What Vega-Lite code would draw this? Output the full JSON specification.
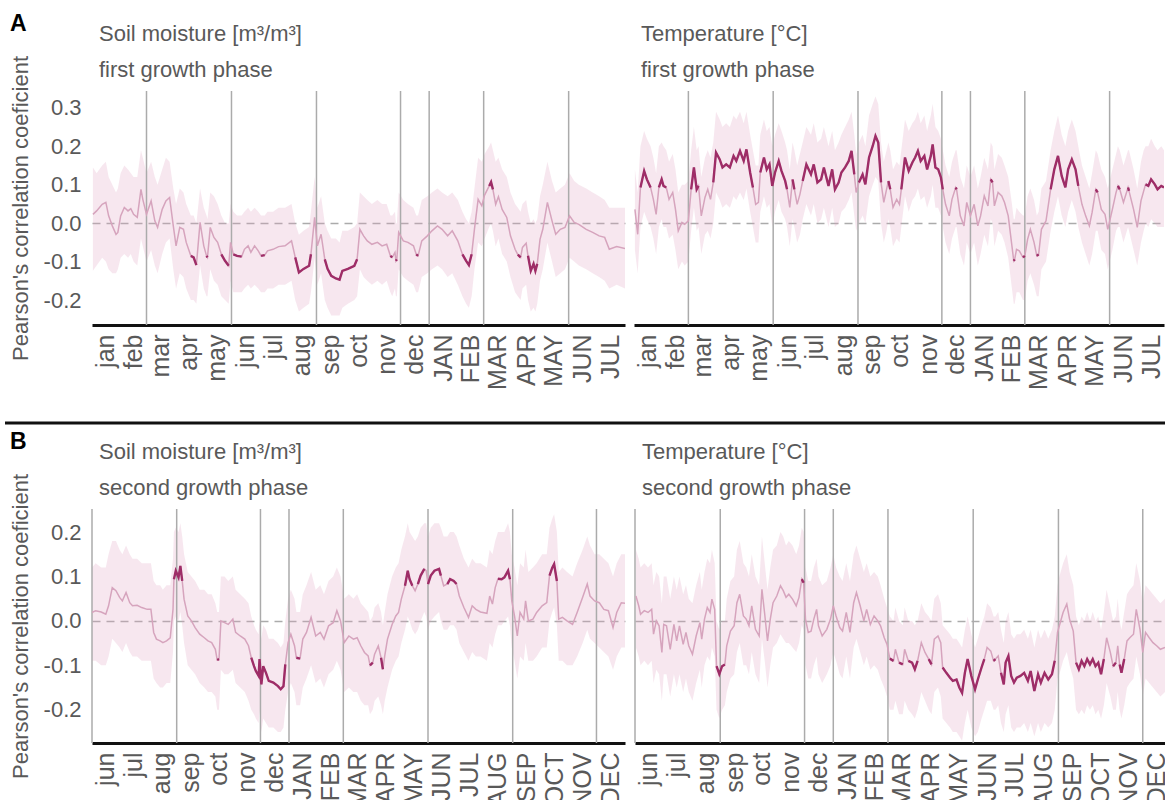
{
  "$schema": "https://vega.github.io/schema/vega-lite/v6.json",
  "background": "#ffffff",
  "padding": {"left": 3, "top": 13, "right": 0, "bottom": 0},
  "columns": 1,
  "align": "none",
  "spacing": 6,
  "config": {
    "font": "Liberation Sans",
    "view": {"stroke": null},
    "axis": {"grid": false, "ticks": false, "tickSize": 0, "labelColor": "#595959", "titleColor": "#595959", "titleFontWeight": "normal"},
    "axisX": {"domainColor": "#111111", "domainWidth": 3, "labelAngle": -90, "labelFontSize": 25, "labelPadding": 9, "labelSeparation": -10},
    "axisY": {"domain": false, "labelFontSize": 22, "labelPadding": 11, "titleFontSize": 22},
    "title": {"anchor": "start", "frame": "group", "fontSize": 22, "fontWeight": "normal", "color": "#595959", "subtitleFontSize": 22, "subtitleColor": "#595959", "subtitlePadding": 14, "dx": 7, "offset": 8}
  },
  "datasets": {
    "seasonsFirst": [{"day": 59}, {"day": 151}, {"day": 243}, {"day": 334}, {"day": 365}, {"day": 424}, {"day": 516}],
    "seasonsSecond": [{"day": 0}, {"day": 92}, {"day": 183}, {"day": 214}, {"day": 273}, {"day": 365}, {"day": 457}, {"day": 548}],
    "soilFirst": [
      {"day": 1, "r": 0.023, "hi": 0.145, "lo": -0.124},
      {"day": 5, "r": 0.032, "hi": 0.13, "lo": -0.11},
      {"day": 11, "r": 0.049, "hi": 0.15, "lo": -0.09},
      {"day": 15, "r": 0.054, "hi": 0.16, "lo": -0.1},
      {"day": 18, "r": 0.019, "hi": 0.12, "lo": -0.12},
      {"day": 22, "r": -0.007, "hi": 0.1, "lo": -0.13},
      {"day": 26, "r": -0.029, "hi": 0.08, "lo": -0.13},
      {"day": 28, "r": -0.024, "hi": 0.09, "lo": -0.12},
      {"day": 31, "r": 0.019, "hi": 0.13, "lo": -0.09},
      {"day": 35, "r": 0.041, "hi": 0.15, "lo": -0.08},
      {"day": 39, "r": 0.032, "hi": 0.14, "lo": -0.09},
      {"day": 42, "r": 0.038, "hi": 0.13, "lo": -0.08},
      {"day": 45, "r": 0.023, "hi": 0.12, "lo": -0.1},
      {"day": 49, "r": 0.015, "hi": 0.12, "lo": -0.11},
      {"day": 53, "r": 0.088, "hi": 0.19, "lo": -0.04},
      {"day": 55, "r": 0.062, "hi": 0.17, "lo": -0.06},
      {"day": 59, "r": 0.023, "hi": 0.13, "lo": -0.1},
      {"day": 64, "r": 0.058, "hi": 0.16, "lo": -0.07},
      {"day": 68, "r": 0.006, "hi": 0.12, "lo": -0.11},
      {"day": 71, "r": -0.011, "hi": 0.1, "lo": -0.13},
      {"day": 76, "r": 0.036, "hi": 0.14, "lo": -0.08},
      {"day": 80, "r": 0.058, "hi": 0.17, "lo": -0.05},
      {"day": 84, "r": 0.067, "hi": 0.16, "lo": -0.04},
      {"day": 88, "r": -0.007, "hi": 0.09, "lo": -0.12},
      {"day": 91, "r": -0.059, "hi": 0.05, "lo": -0.17},
      {"day": 95, "r": -0.011, "hi": 0.09, "lo": -0.13},
      {"day": 99, "r": -0.016, "hi": 0.08, "lo": -0.14},
      {"day": 102, "r": -0.05, "hi": 0.05, "lo": -0.17},
      {"day": 107, "r": -0.085, "hi": 0.02, "lo": -0.2, "seg": 1},
      {"day": 110, "r": -0.089, "hi": 0.02, "lo": -0.2, "seg": 1},
      {"day": 113, "r": -0.109, "hi": 0.0, "lo": -0.21, "seg": 1},
      {"day": 117, "r": 0.002, "hi": 0.09, "lo": -0.11},
      {"day": 121, "r": -0.059, "hi": 0.04, "lo": -0.17},
      {"day": 124, "r": -0.085, "hi": 0.02, "lo": -0.19, "seg": 2},
      {"day": 125, "r": -0.089, "hi": 0.01, "lo": -0.19, "seg": 2},
      {"day": 128, "r": -0.011, "hi": 0.08, "lo": -0.12},
      {"day": 132, "r": -0.037, "hi": 0.07, "lo": -0.15},
      {"day": 136, "r": -0.05, "hi": 0.05, "lo": -0.16},
      {"day": 140, "r": -0.081, "hi": 0.02, "lo": -0.19, "seg": 3},
      {"day": 144, "r": -0.098, "hi": 0.0, "lo": -0.2, "seg": 3},
      {"day": 148, "r": -0.111, "hi": 0.0, "lo": -0.21, "seg": 3},
      {"day": 150, "r": -0.05, "hi": 0.05, "lo": -0.15},
      {"day": 153, "r": -0.081, "hi": 0.03, "lo": -0.18, "seg": 4},
      {"day": 157, "r": -0.085, "hi": 0.02, "lo": -0.18, "seg": 4},
      {"day": 162, "r": -0.087, "hi": 0.02, "lo": -0.18, "seg": 4},
      {"day": 165, "r": -0.068, "hi": 0.03, "lo": -0.17},
      {"day": 169, "r": -0.059, "hi": 0.04, "lo": -0.16},
      {"day": 172, "r": -0.076, "hi": 0.03, "lo": -0.17},
      {"day": 176, "r": -0.059, "hi": 0.04, "lo": -0.16},
      {"day": 180, "r": -0.072, "hi": 0.03, "lo": -0.17},
      {"day": 183, "r": -0.085, "hi": 0.02, "lo": -0.18, "seg": 5},
      {"day": 187, "r": -0.083, "hi": 0.02, "lo": -0.18, "seg": 5},
      {"day": 190, "r": -0.072, "hi": 0.03, "lo": -0.17},
      {"day": 196, "r": -0.068, "hi": 0.03, "lo": -0.17},
      {"day": 202, "r": -0.061, "hi": 0.04, "lo": -0.16},
      {"day": 209, "r": -0.059, "hi": 0.04, "lo": -0.16},
      {"day": 216, "r": -0.046, "hi": 0.05, "lo": -0.15},
      {"day": 220, "r": -0.089, "hi": 0.0, "lo": -0.2, "seg": 6},
      {"day": 224, "r": -0.128, "hi": -0.03, "lo": -0.23, "seg": 6},
      {"day": 229, "r": -0.119, "hi": -0.02, "lo": -0.22, "seg": 6},
      {"day": 235, "r": -0.111, "hi": -0.01, "lo": -0.21, "seg": 6},
      {"day": 237, "r": -0.081, "hi": 0.03, "lo": -0.18, "seg": 6},
      {"day": 241, "r": 0.015, "hi": 0.12, "lo": -0.09},
      {"day": 244, "r": -0.059, "hi": 0.04, "lo": -0.16},
      {"day": 248, "r": -0.029, "hi": 0.07, "lo": -0.13},
      {"day": 252, "r": -0.094, "hi": 0.0, "lo": -0.2, "seg": 7},
      {"day": 255, "r": -0.119, "hi": -0.02, "lo": -0.22, "seg": 7},
      {"day": 259, "r": -0.137, "hi": -0.04, "lo": -0.24, "seg": 7},
      {"day": 264, "r": -0.144, "hi": -0.04, "lo": -0.24, "seg": 7},
      {"day": 268, "r": -0.147, "hi": -0.05, "lo": -0.24, "seg": 7},
      {"day": 271, "r": -0.124, "hi": -0.02, "lo": -0.22, "seg": 7},
      {"day": 277, "r": -0.119, "hi": -0.02, "lo": -0.21, "seg": 7},
      {"day": 284, "r": -0.111, "hi": -0.01, "lo": -0.2, "seg": 7},
      {"day": 287, "r": -0.094, "hi": 0.0, "lo": -0.19, "seg": 7},
      {"day": 290, "r": -0.016, "hi": 0.08, "lo": -0.12},
      {"day": 294, "r": -0.033, "hi": 0.07, "lo": -0.14},
      {"day": 298, "r": -0.046, "hi": 0.06, "lo": -0.15},
      {"day": 303, "r": -0.055, "hi": 0.05, "lo": -0.16},
      {"day": 309, "r": -0.05, "hi": 0.06, "lo": -0.15},
      {"day": 314, "r": -0.059, "hi": 0.05, "lo": -0.16},
      {"day": 319, "r": -0.055, "hi": 0.05, "lo": -0.15},
      {"day": 323, "r": -0.085, "hi": 0.02, "lo": -0.18, "seg": 8},
      {"day": 325, "r": -0.089, "hi": 0.02, "lo": -0.19, "seg": 8},
      {"day": 328, "r": -0.076, "hi": 0.03, "lo": -0.17},
      {"day": 329, "r": -0.098, "hi": 0.0, "lo": -0.19, "seg": 9},
      {"day": 330, "r": -0.094, "hi": 0.0, "lo": -0.19, "seg": 9},
      {"day": 332, "r": -0.024, "hi": 0.08, "lo": -0.12},
      {"day": 337, "r": -0.046, "hi": 0.06, "lo": -0.14},
      {"day": 342, "r": -0.05, "hi": 0.05, "lo": -0.15},
      {"day": 348, "r": -0.059, "hi": 0.04, "lo": -0.16},
      {"day": 351, "r": -0.081, "hi": 0.02, "lo": -0.18, "seg": 10},
      {"day": 353, "r": -0.085, "hi": 0.02, "lo": -0.18, "seg": 10},
      {"day": 357, "r": -0.046, "hi": 0.06, "lo": -0.14},
      {"day": 363, "r": -0.033, "hi": 0.07, "lo": -0.13},
      {"day": 368, "r": -0.02, "hi": 0.08, "lo": -0.12},
      {"day": 374, "r": -0.007, "hi": 0.09, "lo": -0.11},
      {"day": 379, "r": -0.016, "hi": 0.08, "lo": -0.12},
      {"day": 385, "r": -0.033, "hi": 0.07, "lo": -0.14},
      {"day": 390, "r": -0.02, "hi": 0.08, "lo": -0.13},
      {"day": 396, "r": -0.046, "hi": 0.06, "lo": -0.16},
      {"day": 401, "r": -0.081, "hi": 0.03, "lo": -0.19, "seg": 11},
      {"day": 405, "r": -0.098, "hi": 0.01, "lo": -0.21, "seg": 11},
      {"day": 408, "r": -0.109, "hi": 0.0, "lo": -0.22, "seg": 11},
      {"day": 411, "r": -0.081, "hi": 0.03, "lo": -0.19, "seg": 11},
      {"day": 414, "r": -0.016, "hi": 0.09, "lo": -0.12},
      {"day": 418, "r": 0.062, "hi": 0.17, "lo": -0.05},
      {"day": 422, "r": 0.045, "hi": 0.16, "lo": -0.06},
      {"day": 425, "r": 0.073, "hi": 0.18, "lo": -0.04},
      {"day": 430, "r": 0.097, "hi": 0.2, "lo": -0.01, "seg": 12},
      {"day": 432, "r": 0.107, "hi": 0.21, "lo": 0.0, "seg": 12},
      {"day": 434, "r": 0.088, "hi": 0.19, "lo": -0.02, "seg": 12},
      {"day": 437, "r": 0.049, "hi": 0.16, "lo": -0.06},
      {"day": 440, "r": 0.069, "hi": 0.17, "lo": -0.04},
      {"day": 444, "r": 0.036, "hi": 0.14, "lo": -0.08},
      {"day": 449, "r": 0.015, "hi": 0.12, "lo": -0.1},
      {"day": 453, "r": -0.033, "hi": 0.08, "lo": -0.14},
      {"day": 458, "r": -0.068, "hi": 0.05, "lo": -0.18},
      {"day": 461, "r": -0.082, "hi": 0.04, "lo": -0.19, "seg": 13},
      {"day": 464, "r": -0.089, "hi": 0.03, "lo": -0.2, "seg": 13},
      {"day": 466, "r": -0.063, "hi": 0.05, "lo": -0.17},
      {"day": 470, "r": -0.052, "hi": 0.06, "lo": -0.16},
      {"day": 472, "r": -0.085, "hi": 0.03, "lo": -0.2, "seg": 14},
      {"day": 475, "r": -0.124, "hi": 0.0, "lo": -0.23, "seg": 14},
      {"day": 478, "r": -0.106, "hi": 0.01, "lo": -0.22, "seg": 14},
      {"day": 480, "r": -0.124, "hi": 0.0, "lo": -0.23, "seg": 14},
      {"day": 482, "r": -0.106, "hi": 0.01, "lo": -0.21, "seg": 14},
      {"day": 485, "r": -0.042, "hi": 0.07, "lo": -0.15},
      {"day": 488, "r": -0.016, "hi": 0.1, "lo": -0.12},
      {"day": 493, "r": 0.054, "hi": 0.16, "lo": -0.05},
      {"day": 498, "r": 0.006, "hi": 0.11, "lo": -0.1},
      {"day": 502, "r": -0.029, "hi": 0.08, "lo": -0.14},
      {"day": 507, "r": -0.016, "hi": 0.09, "lo": -0.13},
      {"day": 512, "r": -0.011, "hi": 0.1, "lo": -0.12},
      {"day": 517, "r": 0.019, "hi": 0.13, "lo": -0.09},
      {"day": 522, "r": 0.002, "hi": 0.11, "lo": -0.1},
      {"day": 527, "r": -0.003, "hi": 0.1, "lo": -0.11},
      {"day": 535, "r": -0.016, "hi": 0.09, "lo": -0.12},
      {"day": 542, "r": -0.024, "hi": 0.08, "lo": -0.13},
      {"day": 549, "r": -0.033, "hi": 0.07, "lo": -0.14},
      {"day": 555, "r": -0.037, "hi": 0.06, "lo": -0.15},
      {"day": 560, "r": -0.068, "hi": 0.04, "lo": -0.17},
      {"day": 568, "r": -0.061, "hi": 0.04, "lo": -0.16},
      {"day": 577, "r": -0.066, "hi": 0.04, "lo": -0.17}
    ],
    "tempFirst": [
      {"day": 1, "r": 0.036, "hi": 0.14, "lo": -0.07},
      {"day": 4, "r": -0.029, "hi": 0.08, "lo": -0.13},
      {"day": 7, "r": 0.093, "hi": 0.2, "lo": -0.01, "seg": 1},
      {"day": 11, "r": 0.136, "hi": 0.24, "lo": 0.03, "seg": 1},
      {"day": 14, "r": 0.114, "hi": 0.22, "lo": 0.01, "seg": 1},
      {"day": 18, "r": 0.093, "hi": 0.2, "lo": -0.01, "seg": 1},
      {"day": 21, "r": 0.062, "hi": 0.17, "lo": -0.04},
      {"day": 24, "r": 0.023, "hi": 0.13, "lo": -0.08},
      {"day": 27, "r": 0.093, "hi": 0.2, "lo": -0.01, "seg": 2},
      {"day": 30, "r": 0.114, "hi": 0.21, "lo": 0.01, "seg": 2},
      {"day": 32, "r": 0.097, "hi": 0.2, "lo": -0.01, "seg": 2},
      {"day": 35, "r": 0.093, "hi": 0.19, "lo": -0.01, "seg": 2},
      {"day": 38, "r": 0.062, "hi": 0.16, "lo": -0.04},
      {"day": 42, "r": 0.08, "hi": 0.18, "lo": -0.03},
      {"day": 45, "r": 0.036, "hi": 0.14, "lo": -0.07},
      {"day": 48, "r": -0.02, "hi": 0.08, "lo": -0.12},
      {"day": 52, "r": 0.002, "hi": 0.1, "lo": -0.1},
      {"day": 55, "r": -0.003, "hi": 0.1, "lo": -0.11},
      {"day": 59, "r": 0.006, "hi": 0.11, "lo": -0.1},
      {"day": 62, "r": 0.088, "hi": 0.19, "lo": -0.02, "seg": 3},
      {"day": 65, "r": 0.145, "hi": 0.25, "lo": 0.04, "seg": 3},
      {"day": 68, "r": 0.088, "hi": 0.19, "lo": -0.02, "seg": 3},
      {"day": 70, "r": 0.097, "hi": 0.2, "lo": -0.01, "seg": 3},
      {"day": 73, "r": 0.019, "hi": 0.12, "lo": -0.08},
      {"day": 77, "r": 0.067, "hi": 0.17, "lo": -0.03},
      {"day": 80, "r": 0.088, "hi": 0.19, "lo": -0.02},
      {"day": 83, "r": 0.062, "hi": 0.17, "lo": -0.04},
      {"day": 86, "r": 0.106, "hi": 0.21, "lo": 0.0, "seg": 4},
      {"day": 89, "r": 0.184, "hi": 0.29, "lo": 0.08, "seg": 4},
      {"day": 93, "r": 0.166, "hi": 0.27, "lo": 0.06, "seg": 4},
      {"day": 96, "r": 0.145, "hi": 0.25, "lo": 0.04, "seg": 4},
      {"day": 100, "r": 0.153, "hi": 0.26, "lo": 0.05, "seg": 4},
      {"day": 104, "r": 0.145, "hi": 0.25, "lo": 0.04, "seg": 4},
      {"day": 108, "r": 0.175, "hi": 0.28, "lo": 0.07, "seg": 4},
      {"day": 111, "r": 0.162, "hi": 0.27, "lo": 0.06, "seg": 4},
      {"day": 115, "r": 0.188, "hi": 0.29, "lo": 0.08, "seg": 4},
      {"day": 119, "r": 0.162, "hi": 0.26, "lo": 0.06, "seg": 4},
      {"day": 122, "r": 0.192, "hi": 0.29, "lo": 0.09, "seg": 4},
      {"day": 126, "r": 0.132, "hi": 0.23, "lo": 0.03, "seg": 4},
      {"day": 129, "r": 0.093, "hi": 0.19, "lo": -0.01, "seg": 4},
      {"day": 132, "r": 0.049, "hi": 0.15, "lo": -0.05},
      {"day": 135, "r": 0.054, "hi": 0.15, "lo": -0.05},
      {"day": 137, "r": 0.132, "hi": 0.23, "lo": 0.03, "seg": 5},
      {"day": 141, "r": 0.171, "hi": 0.27, "lo": 0.07, "seg": 5},
      {"day": 144, "r": 0.14, "hi": 0.24, "lo": 0.04, "seg": 5},
      {"day": 147, "r": 0.153, "hi": 0.25, "lo": 0.05, "seg": 5},
      {"day": 150, "r": 0.097, "hi": 0.2, "lo": -0.01, "seg": 5},
      {"day": 153, "r": 0.132, "hi": 0.23, "lo": 0.03, "seg": 5},
      {"day": 157, "r": 0.162, "hi": 0.26, "lo": 0.06, "seg": 5},
      {"day": 160, "r": 0.136, "hi": 0.24, "lo": 0.03, "seg": 5},
      {"day": 164, "r": 0.11, "hi": 0.21, "lo": 0.01, "seg": 5},
      {"day": 166, "r": 0.088, "hi": 0.19, "lo": -0.01, "seg": 5},
      {"day": 169, "r": 0.041, "hi": 0.14, "lo": -0.06},
      {"day": 172, "r": 0.114, "hi": 0.21, "lo": 0.01, "seg": 6},
      {"day": 174, "r": 0.088, "hi": 0.19, "lo": -0.01, "seg": 6},
      {"day": 177, "r": 0.049, "hi": 0.15, "lo": -0.05},
      {"day": 180, "r": 0.075, "hi": 0.18, "lo": -0.03},
      {"day": 183, "r": 0.11, "hi": 0.21, "lo": 0.01, "seg": 7},
      {"day": 187, "r": 0.153, "hi": 0.25, "lo": 0.05, "seg": 7},
      {"day": 192, "r": 0.127, "hi": 0.23, "lo": 0.02, "seg": 7},
      {"day": 195, "r": 0.153, "hi": 0.26, "lo": 0.05, "seg": 7},
      {"day": 199, "r": 0.106, "hi": 0.21, "lo": 0.0, "seg": 7},
      {"day": 203, "r": 0.114, "hi": 0.22, "lo": 0.01, "seg": 7},
      {"day": 206, "r": 0.145, "hi": 0.25, "lo": 0.04, "seg": 7},
      {"day": 211, "r": 0.097, "hi": 0.2, "lo": -0.01, "seg": 7},
      {"day": 215, "r": 0.14, "hi": 0.24, "lo": 0.04, "seg": 7},
      {"day": 218, "r": 0.088, "hi": 0.19, "lo": -0.01, "seg": 7},
      {"day": 222, "r": 0.106, "hi": 0.21, "lo": 0.0, "seg": 7},
      {"day": 225, "r": 0.132, "hi": 0.23, "lo": 0.03, "seg": 7},
      {"day": 229, "r": 0.145, "hi": 0.25, "lo": 0.04, "seg": 7},
      {"day": 233, "r": 0.162, "hi": 0.27, "lo": 0.06, "seg": 7},
      {"day": 236, "r": 0.188, "hi": 0.29, "lo": 0.08, "seg": 7},
      {"day": 239, "r": 0.127, "hi": 0.23, "lo": 0.02, "seg": 7},
      {"day": 241, "r": 0.08, "hi": 0.18, "lo": -0.02},
      {"day": 244, "r": 0.106, "hi": 0.21, "lo": 0.0, "seg": 8},
      {"day": 248, "r": 0.127, "hi": 0.23, "lo": 0.02, "seg": 8},
      {"day": 251, "r": 0.101, "hi": 0.2, "lo": 0.0, "seg": 8},
      {"day": 255, "r": 0.171, "hi": 0.28, "lo": 0.07, "seg": 8},
      {"day": 259, "r": 0.201, "hi": 0.31, "lo": 0.1, "seg": 8},
      {"day": 262, "r": 0.227, "hi": 0.33, "lo": 0.12, "seg": 8},
      {"day": 265, "r": 0.21, "hi": 0.31, "lo": 0.11, "seg": 8},
      {"day": 268, "r": 0.106, "hi": 0.21, "lo": 0.0, "seg": 8},
      {"day": 271, "r": 0.054, "hi": 0.16, "lo": -0.05},
      {"day": 274, "r": 0.088, "hi": 0.19, "lo": -0.02},
      {"day": 276, "r": 0.11, "hi": 0.21, "lo": 0.01, "seg": 9},
      {"day": 278, "r": 0.088, "hi": 0.19, "lo": -0.01, "seg": 9},
      {"day": 281, "r": 0.041, "hi": 0.14, "lo": -0.06},
      {"day": 285, "r": 0.062, "hi": 0.16, "lo": -0.04},
      {"day": 288, "r": 0.049, "hi": 0.15, "lo": -0.05},
      {"day": 290, "r": 0.088, "hi": 0.19, "lo": -0.01, "seg": 10},
      {"day": 294, "r": 0.171, "hi": 0.27, "lo": 0.07, "seg": 10},
      {"day": 298, "r": 0.136, "hi": 0.24, "lo": 0.03, "seg": 10},
      {"day": 302, "r": 0.158, "hi": 0.26, "lo": 0.06, "seg": 10},
      {"day": 305, "r": 0.171, "hi": 0.27, "lo": 0.07, "seg": 10},
      {"day": 308, "r": 0.188, "hi": 0.29, "lo": 0.09, "seg": 10},
      {"day": 311, "r": 0.162, "hi": 0.26, "lo": 0.06, "seg": 10},
      {"day": 315, "r": 0.175, "hi": 0.28, "lo": 0.07, "seg": 10},
      {"day": 318, "r": 0.14, "hi": 0.24, "lo": 0.04, "seg": 10},
      {"day": 322, "r": 0.175, "hi": 0.28, "lo": 0.07, "seg": 10},
      {"day": 324, "r": 0.205, "hi": 0.31, "lo": 0.1, "seg": 10},
      {"day": 327, "r": 0.145, "hi": 0.25, "lo": 0.04, "seg": 10},
      {"day": 330, "r": 0.14, "hi": 0.24, "lo": 0.04, "seg": 10},
      {"day": 333, "r": 0.119, "hi": 0.22, "lo": 0.02, "seg": 10},
      {"day": 335, "r": 0.088, "hi": 0.19, "lo": -0.01, "seg": 10},
      {"day": 338, "r": 0.049, "hi": 0.15, "lo": -0.05},
      {"day": 342, "r": 0.019, "hi": 0.12, "lo": -0.08},
      {"day": 345, "r": 0.062, "hi": 0.16, "lo": -0.04},
      {"day": 349, "r": 0.093, "hi": 0.19, "lo": -0.01, "seg": 11},
      {"day": 350, "r": 0.088, "hi": 0.19, "lo": -0.01, "seg": 11},
      {"day": 354, "r": 0.019, "hi": 0.12, "lo": -0.08},
      {"day": 358, "r": -0.007, "hi": 0.09, "lo": -0.11},
      {"day": 361, "r": 0.054, "hi": 0.15, "lo": -0.05},
      {"day": 365, "r": 0.019, "hi": 0.12, "lo": -0.08},
      {"day": 369, "r": 0.049, "hi": 0.15, "lo": -0.05},
      {"day": 373, "r": -0.007, "hi": 0.09, "lo": -0.11},
      {"day": 376, "r": 0.019, "hi": 0.12, "lo": -0.08},
      {"day": 380, "r": 0.071, "hi": 0.17, "lo": -0.03},
      {"day": 384, "r": 0.045, "hi": 0.14, "lo": -0.06},
      {"day": 387, "r": 0.114, "hi": 0.21, "lo": 0.01, "seg": 12},
      {"day": 389, "r": 0.106, "hi": 0.2, "lo": 0.0, "seg": 12},
      {"day": 391, "r": 0.045, "hi": 0.14, "lo": -0.06},
      {"day": 395, "r": 0.08, "hi": 0.18, "lo": -0.02},
      {"day": 399, "r": 0.071, "hi": 0.17, "lo": -0.03},
      {"day": 402, "r": 0.054, "hi": 0.15, "lo": -0.05},
      {"day": 406, "r": 0.019, "hi": 0.12, "lo": -0.09},
      {"day": 410, "r": -0.059, "hi": 0.05, "lo": -0.17},
      {"day": 412, "r": -0.098, "hi": 0.01, "lo": -0.21, "seg": 13},
      {"day": 413, "r": -0.094, "hi": 0.01, "lo": -0.21, "seg": 13},
      {"day": 415, "r": -0.068, "hi": 0.04, "lo": -0.18},
      {"day": 418, "r": -0.072, "hi": 0.03, "lo": -0.18},
      {"day": 422, "r": -0.089, "hi": 0.02, "lo": -0.2, "seg": 14},
      {"day": 424, "r": -0.085, "hi": 0.02, "lo": -0.2, "seg": 14},
      {"day": 427, "r": -0.042, "hi": 0.07, "lo": -0.15},
      {"day": 430, "r": -0.016, "hi": 0.09, "lo": -0.13},
      {"day": 434, "r": -0.05, "hi": 0.06, "lo": -0.16},
      {"day": 437, "r": -0.085, "hi": 0.02, "lo": -0.19, "seg": 15},
      {"day": 439, "r": -0.081, "hi": 0.03, "lo": -0.19, "seg": 15},
      {"day": 442, "r": -0.016, "hi": 0.09, "lo": -0.12},
      {"day": 447, "r": 0.006, "hi": 0.11, "lo": -0.1},
      {"day": 452, "r": 0.088, "hi": 0.19, "lo": -0.02, "seg": 16},
      {"day": 456, "r": 0.14, "hi": 0.24, "lo": 0.03, "seg": 16},
      {"day": 460, "r": 0.175, "hi": 0.28, "lo": 0.07, "seg": 16},
      {"day": 464, "r": 0.123, "hi": 0.23, "lo": 0.02, "seg": 16},
      {"day": 468, "r": 0.093, "hi": 0.2, "lo": -0.01, "seg": 16},
      {"day": 471, "r": 0.14, "hi": 0.24, "lo": 0.03, "seg": 16},
      {"day": 475, "r": 0.166, "hi": 0.27, "lo": 0.06, "seg": 16},
      {"day": 479, "r": 0.14, "hi": 0.24, "lo": 0.03, "seg": 16},
      {"day": 482, "r": 0.097, "hi": 0.2, "lo": -0.01, "seg": 16},
      {"day": 486, "r": 0.049, "hi": 0.15, "lo": -0.05},
      {"day": 490, "r": 0.019, "hi": 0.12, "lo": -0.08},
      {"day": 494, "r": -0.007, "hi": 0.09, "lo": -0.11},
      {"day": 497, "r": 0.028, "hi": 0.13, "lo": -0.08},
      {"day": 501, "r": 0.088, "hi": 0.19, "lo": -0.02, "seg": 17},
      {"day": 503, "r": 0.08, "hi": 0.18, "lo": -0.02, "seg": 17},
      {"day": 507, "r": 0.036, "hi": 0.14, "lo": -0.07},
      {"day": 511, "r": 0.023, "hi": 0.12, "lo": -0.08},
      {"day": 514, "r": -0.016, "hi": 0.09, "lo": -0.12},
      {"day": 519, "r": 0.036, "hi": 0.14, "lo": -0.07},
      {"day": 523, "r": 0.08, "hi": 0.18, "lo": -0.02},
      {"day": 525, "r": 0.097, "hi": 0.2, "lo": -0.01, "seg": 18},
      {"day": 527, "r": 0.088, "hi": 0.19, "lo": -0.01, "seg": 18},
      {"day": 531, "r": 0.054, "hi": 0.15, "lo": -0.05},
      {"day": 536, "r": 0.093, "hi": 0.19, "lo": -0.01, "seg": 19},
      {"day": 537, "r": 0.084, "hi": 0.19, "lo": -0.02, "seg": 19},
      {"day": 542, "r": 0.036, "hi": 0.14, "lo": -0.07},
      {"day": 546, "r": -0.011, "hi": 0.09, "lo": -0.11},
      {"day": 550, "r": 0.058, "hi": 0.16, "lo": -0.05},
      {"day": 553, "r": 0.084, "hi": 0.19, "lo": -0.02},
      {"day": 555, "r": 0.101, "hi": 0.2, "lo": 0.0, "seg": 20},
      {"day": 558, "r": 0.097, "hi": 0.2, "lo": -0.01, "seg": 20},
      {"day": 561, "r": 0.114, "hi": 0.22, "lo": 0.01, "seg": 20},
      {"day": 565, "r": 0.101, "hi": 0.2, "lo": 0.0, "seg": 20},
      {"day": 568, "r": 0.088, "hi": 0.19, "lo": -0.01, "seg": 20},
      {"day": 572, "r": 0.097, "hi": 0.2, "lo": -0.01, "seg": 20},
      {"day": 575, "r": 0.093, "hi": 0.19, "lo": -0.01, "seg": 20}
    ],
    "soilSecond": [
      {"day": 0, "r": 0.019, "hi": 0.12, "lo": -0.09},
      {"day": 4, "r": 0.023, "hi": 0.13, "lo": -0.09},
      {"day": 10, "r": 0.02, "hi": 0.12, "lo": -0.1},
      {"day": 15, "r": 0.015, "hi": 0.12, "lo": -0.1},
      {"day": 18, "r": 0.034, "hi": 0.15, "lo": -0.08},
      {"day": 22, "r": 0.075, "hi": 0.18, "lo": -0.04},
      {"day": 26, "r": 0.068, "hi": 0.18, "lo": -0.05},
      {"day": 30, "r": 0.053, "hi": 0.16, "lo": -0.06},
      {"day": 33, "r": 0.045, "hi": 0.15, "lo": -0.07},
      {"day": 37, "r": 0.064, "hi": 0.17, "lo": -0.05},
      {"day": 41, "r": 0.041, "hi": 0.15, "lo": -0.07},
      {"day": 44, "r": 0.034, "hi": 0.14, "lo": -0.08},
      {"day": 49, "r": 0.035, "hi": 0.14, "lo": -0.08},
      {"day": 54, "r": 0.03, "hi": 0.13, "lo": -0.09},
      {"day": 60, "r": 0.026, "hi": 0.13, "lo": -0.09},
      {"day": 64, "r": 0.026, "hi": 0.13, "lo": -0.09},
      {"day": 67, "r": -0.026, "hi": 0.09, "lo": -0.13},
      {"day": 70, "r": -0.041, "hi": 0.08, "lo": -0.14},
      {"day": 74, "r": -0.045, "hi": 0.08, "lo": -0.15},
      {"day": 77, "r": -0.049, "hi": 0.07, "lo": -0.15},
      {"day": 81, "r": -0.045, "hi": 0.08, "lo": -0.14},
      {"day": 85, "r": -0.038, "hi": 0.08, "lo": -0.14},
      {"day": 88, "r": 0.026, "hi": 0.14, "lo": -0.07},
      {"day": 89, "r": 0.094, "hi": 0.2, "lo": 0.0, "seg": 1},
      {"day": 91, "r": 0.113, "hi": 0.21, "lo": 0.01, "seg": 1},
      {"day": 94, "r": 0.098, "hi": 0.2, "lo": 0.0, "seg": 1},
      {"day": 96, "r": 0.124, "hi": 0.22, "lo": 0.02, "seg": 1},
      {"day": 98, "r": 0.09, "hi": 0.19, "lo": -0.01, "seg": 1},
      {"day": 100, "r": 0.049, "hi": 0.15, "lo": -0.05},
      {"day": 104, "r": 0.011, "hi": 0.11, "lo": -0.1},
      {"day": 108, "r": 0.0, "hi": 0.1, "lo": -0.11},
      {"day": 112, "r": -0.015, "hi": 0.09, "lo": -0.12},
      {"day": 117, "r": -0.03, "hi": 0.07, "lo": -0.14},
      {"day": 122, "r": -0.038, "hi": 0.07, "lo": -0.15},
      {"day": 126, "r": -0.045, "hi": 0.06, "lo": -0.16},
      {"day": 130, "r": -0.049, "hi": 0.06, "lo": -0.16},
      {"day": 134, "r": -0.064, "hi": 0.04, "lo": -0.17},
      {"day": 136, "r": -0.088, "hi": 0.02, "lo": -0.2, "seg": 2},
      {"day": 138, "r": -0.086, "hi": 0.02, "lo": -0.2, "seg": 2},
      {"day": 140, "r": 0.0, "hi": 0.1, "lo": -0.11},
      {"day": 144, "r": -0.004, "hi": 0.1, "lo": -0.12},
      {"day": 148, "r": -0.008, "hi": 0.09, "lo": -0.12},
      {"day": 153, "r": 0.004, "hi": 0.1, "lo": -0.11},
      {"day": 156, "r": -0.026, "hi": 0.07, "lo": -0.14},
      {"day": 161, "r": -0.034, "hi": 0.06, "lo": -0.15},
      {"day": 166, "r": -0.041, "hi": 0.05, "lo": -0.16},
      {"day": 170, "r": -0.056, "hi": 0.04, "lo": -0.18},
      {"day": 173, "r": -0.083, "hi": 0.01, "lo": -0.2, "seg": 3},
      {"day": 176, "r": -0.102, "hi": -0.01, "lo": -0.21, "seg": 3},
      {"day": 178, "r": -0.113, "hi": -0.02, "lo": -0.22, "seg": 3},
      {"day": 181, "r": -0.124, "hi": -0.03, "lo": -0.23, "seg": 3},
      {"day": 182, "r": -0.086, "hi": 0.0, "lo": -0.2, "seg": 3},
      {"day": 184, "r": -0.143, "hi": -0.04, "lo": -0.25, "seg": 3},
      {"day": 186, "r": -0.102, "hi": -0.01, "lo": -0.22, "seg": 3},
      {"day": 189, "r": -0.117, "hi": -0.02, "lo": -0.23, "seg": 3},
      {"day": 192, "r": -0.135, "hi": -0.04, "lo": -0.24, "seg": 3},
      {"day": 197, "r": -0.139, "hi": -0.04, "lo": -0.24, "seg": 3},
      {"day": 202, "r": -0.147, "hi": -0.05, "lo": -0.25, "seg": 3},
      {"day": 205, "r": -0.154, "hi": -0.06, "lo": -0.25, "seg": 3},
      {"day": 208, "r": -0.147, "hi": -0.05, "lo": -0.24, "seg": 3},
      {"day": 210, "r": -0.098, "hi": 0.0, "lo": -0.2, "seg": 3},
      {"day": 213, "r": -0.049, "hi": 0.05, "lo": -0.16},
      {"day": 216, "r": -0.03, "hi": 0.07, "lo": -0.14},
      {"day": 220, "r": -0.056, "hi": 0.05, "lo": -0.16},
      {"day": 222, "r": -0.083, "hi": 0.02, "lo": -0.19, "seg": 4},
      {"day": 226, "r": -0.085, "hi": 0.02, "lo": -0.19, "seg": 4},
      {"day": 229, "r": -0.041, "hi": 0.06, "lo": -0.15},
      {"day": 233, "r": -0.026, "hi": 0.08, "lo": -0.13},
      {"day": 238, "r": 0.008, "hi": 0.11, "lo": -0.1},
      {"day": 243, "r": -0.034, "hi": 0.07, "lo": -0.14},
      {"day": 248, "r": -0.026, "hi": 0.08, "lo": -0.13},
      {"day": 252, "r": -0.041, "hi": 0.06, "lo": -0.15},
      {"day": 257, "r": -0.011, "hi": 0.09, "lo": -0.12},
      {"day": 262, "r": -0.004, "hi": 0.1, "lo": -0.11},
      {"day": 266, "r": 0.023, "hi": 0.12, "lo": -0.09},
      {"day": 270, "r": 0.0, "hi": 0.1, "lo": -0.11},
      {"day": 274, "r": -0.049, "hi": 0.05, "lo": -0.16},
      {"day": 279, "r": -0.034, "hi": 0.06, "lo": -0.15},
      {"day": 284, "r": -0.041, "hi": 0.05, "lo": -0.16},
      {"day": 288, "r": -0.038, "hi": 0.06, "lo": -0.16},
      {"day": 292, "r": -0.056, "hi": 0.04, "lo": -0.18},
      {"day": 296, "r": -0.071, "hi": 0.03, "lo": -0.19},
      {"day": 300, "r": -0.079, "hi": 0.02, "lo": -0.19},
      {"day": 302, "r": -0.1, "hi": 0.0, "lo": -0.21, "seg": 5},
      {"day": 305, "r": -0.094, "hi": 0.01, "lo": -0.2, "seg": 5},
      {"day": 307, "r": -0.075, "hi": 0.03, "lo": -0.18},
      {"day": 311, "r": -0.056, "hi": 0.04, "lo": -0.17},
      {"day": 314, "r": -0.083, "hi": 0.02, "lo": -0.19, "seg": 6},
      {"day": 316, "r": -0.109, "hi": -0.01, "lo": -0.21, "seg": 6},
      {"day": 318, "r": -0.079, "hi": 0.02, "lo": -0.18},
      {"day": 321, "r": -0.041, "hi": 0.06, "lo": -0.15},
      {"day": 326, "r": -0.008, "hi": 0.1, "lo": -0.11},
      {"day": 330, "r": 0.011, "hi": 0.12, "lo": -0.09},
      {"day": 333, "r": 0.019, "hi": 0.13, "lo": -0.08},
      {"day": 336, "r": 0.049, "hi": 0.16, "lo": -0.05},
      {"day": 340, "r": 0.079, "hi": 0.19, "lo": -0.02, "seg": 7},
      {"day": 343, "r": 0.113, "hi": 0.22, "lo": 0.01, "seg": 7},
      {"day": 345, "r": 0.094, "hi": 0.2, "lo": 0.0, "seg": 7},
      {"day": 348, "r": 0.079, "hi": 0.19, "lo": -0.02, "seg": 7},
      {"day": 351, "r": 0.068, "hi": 0.18, "lo": -0.03},
      {"day": 354, "r": 0.083, "hi": 0.19, "lo": -0.02, "seg": 8},
      {"day": 357, "r": 0.102, "hi": 0.21, "lo": 0.0, "seg": 8},
      {"day": 361, "r": 0.117, "hi": 0.22, "lo": 0.02, "seg": 8},
      {"day": 363, "r": 0.113, "hi": 0.22, "lo": 0.01},
      {"day": 365, "r": 0.083, "hi": 0.19, "lo": -0.02, "seg": 9},
      {"day": 368, "r": 0.102, "hi": 0.21, "lo": 0.0, "seg": 9},
      {"day": 372, "r": 0.113, "hi": 0.22, "lo": 0.01, "seg": 9},
      {"day": 377, "r": 0.117, "hi": 0.22, "lo": 0.02, "seg": 9},
      {"day": 379, "r": 0.102, "hi": 0.21, "lo": 0.0, "seg": 9},
      {"day": 382, "r": 0.079, "hi": 0.19, "lo": -0.02},
      {"day": 386, "r": 0.083, "hi": 0.19, "lo": -0.02, "seg": 10},
      {"day": 389, "r": 0.094, "hi": 0.2, "lo": -0.01, "seg": 10},
      {"day": 393, "r": 0.09, "hi": 0.2, "lo": -0.01, "seg": 10},
      {"day": 396, "r": 0.083, "hi": 0.19, "lo": -0.02, "seg": 10},
      {"day": 399, "r": 0.056, "hi": 0.17, "lo": -0.05},
      {"day": 404, "r": 0.03, "hi": 0.14, "lo": -0.07},
      {"day": 409, "r": 0.008, "hi": 0.12, "lo": -0.09},
      {"day": 413, "r": 0.034, "hi": 0.14, "lo": -0.07},
      {"day": 417, "r": 0.026, "hi": 0.13, "lo": -0.08},
      {"day": 422, "r": 0.02, "hi": 0.13, "lo": -0.08},
      {"day": 429, "r": 0.017, "hi": 0.12, "lo": -0.09},
      {"day": 432, "r": 0.056, "hi": 0.16, "lo": -0.05},
      {"day": 435, "r": 0.038, "hi": 0.15, "lo": -0.06},
      {"day": 438, "r": 0.075, "hi": 0.18, "lo": -0.03},
      {"day": 441, "r": 0.095, "hi": 0.2, "lo": -0.01, "seg": 11},
      {"day": 445, "r": 0.094, "hi": 0.2, "lo": -0.01, "seg": 11},
      {"day": 448, "r": 0.098, "hi": 0.2, "lo": 0.0, "seg": 11},
      {"day": 452, "r": 0.113, "hi": 0.22, "lo": 0.01, "seg": 11},
      {"day": 454, "r": 0.094, "hi": 0.2, "lo": -0.01, "seg": 11},
      {"day": 456, "r": 0.045, "hi": 0.15, "lo": -0.06},
      {"day": 459, "r": 0.011, "hi": 0.12, "lo": -0.09},
      {"day": 462, "r": -0.034, "hi": 0.08, "lo": -0.13},
      {"day": 465, "r": 0.019, "hi": 0.13, "lo": -0.08},
      {"day": 469, "r": 0.004, "hi": 0.12, "lo": -0.09},
      {"day": 471, "r": 0.045, "hi": 0.16, "lo": -0.05},
      {"day": 474, "r": 0.0, "hi": 0.11, "lo": -0.09},
      {"day": 479, "r": 0.004, "hi": 0.12, "lo": -0.09},
      {"day": 483, "r": 0.019, "hi": 0.13, "lo": -0.08},
      {"day": 489, "r": 0.034, "hi": 0.15, "lo": -0.06},
      {"day": 494, "r": 0.041, "hi": 0.15, "lo": -0.06},
      {"day": 497, "r": 0.102, "hi": 0.21, "lo": 0.0, "seg": 12},
      {"day": 500, "r": 0.12, "hi": 0.23, "lo": 0.02, "seg": 12},
      {"day": 502, "r": 0.128, "hi": 0.24, "lo": 0.03, "seg": 12},
      {"day": 505, "r": 0.09, "hi": 0.2, "lo": -0.01, "seg": 12},
      {"day": 507, "r": 0.004, "hi": 0.11, "lo": -0.09},
      {"day": 511, "r": 0.008, "hi": 0.12, "lo": -0.09},
      {"day": 516, "r": 0.0, "hi": 0.11, "lo": -0.1},
      {"day": 522, "r": -0.008, "hi": 0.1, "lo": -0.1},
      {"day": 527, "r": 0.019, "hi": 0.13, "lo": -0.08},
      {"day": 533, "r": 0.053, "hi": 0.16, "lo": -0.05},
      {"day": 538, "r": 0.083, "hi": 0.19, "lo": -0.02},
      {"day": 541, "r": 0.056, "hi": 0.17, "lo": -0.04},
      {"day": 546, "r": 0.045, "hi": 0.15, "lo": -0.05},
      {"day": 551, "r": 0.041, "hi": 0.15, "lo": -0.06},
      {"day": 556, "r": 0.026, "hi": 0.14, "lo": -0.07},
      {"day": 561, "r": 0.023, "hi": 0.13, "lo": -0.08},
      {"day": 566, "r": -0.015, "hi": 0.1, "lo": -0.11},
      {"day": 570, "r": 0.019, "hi": 0.13, "lo": -0.08},
      {"day": 575, "r": 0.041, "hi": 0.15, "lo": -0.06},
      {"day": 579, "r": 0.04, "hi": 0.15, "lo": -0.06}
    ],
    "tempSecond": [
      {"day": 1, "r": 0.056, "hi": 0.16, "lo": -0.06},
      {"day": 4, "r": 0.034, "hi": 0.14, "lo": -0.08},
      {"day": 6, "r": 0.015, "hi": 0.12, "lo": -0.1},
      {"day": 10, "r": 0.023, "hi": 0.13, "lo": -0.09},
      {"day": 14, "r": 0.019, "hi": 0.12, "lo": -0.1},
      {"day": 18, "r": 0.026, "hi": 0.13, "lo": -0.09},
      {"day": 20, "r": -0.03, "hi": 0.08, "lo": -0.14},
      {"day": 23, "r": 0.0, "hi": 0.11, "lo": -0.11},
      {"day": 26, "r": -0.011, "hi": 0.1, "lo": -0.12},
      {"day": 29, "r": -0.071, "hi": 0.04, "lo": -0.18},
      {"day": 31, "r": -0.008, "hi": 0.1, "lo": -0.12},
      {"day": 34, "r": -0.011, "hi": 0.1, "lo": -0.12},
      {"day": 38, "r": -0.064, "hi": 0.05, "lo": -0.17},
      {"day": 42, "r": -0.008, "hi": 0.1, "lo": -0.12},
      {"day": 45, "r": -0.045, "hi": 0.07, "lo": -0.15},
      {"day": 48, "r": -0.011, "hi": 0.1, "lo": -0.12},
      {"day": 52, "r": -0.053, "hi": 0.06, "lo": -0.16},
      {"day": 55, "r": -0.026, "hi": 0.08, "lo": -0.13},
      {"day": 58, "r": -0.056, "hi": 0.05, "lo": -0.16},
      {"day": 62, "r": -0.075, "hi": 0.04, "lo": -0.18},
      {"day": 66, "r": -0.034, "hi": 0.08, "lo": -0.14},
      {"day": 70, "r": -0.004, "hi": 0.11, "lo": -0.11},
      {"day": 72, "r": -0.041, "hi": 0.07, "lo": -0.15},
      {"day": 75, "r": 0.004, "hi": 0.11, "lo": -0.1},
      {"day": 78, "r": 0.03, "hi": 0.14, "lo": -0.08},
      {"day": 81, "r": 0.019, "hi": 0.13, "lo": -0.09},
      {"day": 83, "r": 0.049, "hi": 0.16, "lo": -0.06},
      {"day": 86, "r": 0.026, "hi": 0.13, "lo": -0.08},
      {"day": 88, "r": -0.102, "hi": 0.0, "lo": -0.2, "seg": 1},
      {"day": 91, "r": -0.12, "hi": -0.02, "lo": -0.22, "seg": 1},
      {"day": 94, "r": -0.102, "hi": 0.0, "lo": -0.2, "seg": 1},
      {"day": 97, "r": -0.098, "hi": 0.0, "lo": -0.19, "seg": 1},
      {"day": 99, "r": -0.056, "hi": 0.05, "lo": -0.16},
      {"day": 103, "r": -0.023, "hi": 0.09, "lo": -0.13},
      {"day": 107, "r": -0.011, "hi": 0.1, "lo": -0.12},
      {"day": 110, "r": 0.041, "hi": 0.16, "lo": -0.07},
      {"day": 113, "r": 0.06, "hi": 0.18, "lo": -0.05},
      {"day": 117, "r": 0.011, "hi": 0.13, "lo": -0.1},
      {"day": 120, "r": 0.004, "hi": 0.12, "lo": -0.1},
      {"day": 123, "r": -0.011, "hi": 0.1, "lo": -0.12},
      {"day": 126, "r": 0.034, "hi": 0.15, "lo": -0.07},
      {"day": 130, "r": -0.019, "hi": 0.1, "lo": -0.12},
      {"day": 134, "r": -0.034, "hi": 0.08, "lo": -0.14},
      {"day": 137, "r": 0.071, "hi": 0.19, "lo": -0.04},
      {"day": 140, "r": 0.015, "hi": 0.13, "lo": -0.09},
      {"day": 143, "r": -0.045, "hi": 0.07, "lo": -0.15},
      {"day": 146, "r": 0.004, "hi": 0.12, "lo": -0.1},
      {"day": 149, "r": 0.041, "hi": 0.16, "lo": -0.06},
      {"day": 153, "r": 0.056, "hi": 0.17, "lo": -0.05},
      {"day": 157, "r": 0.079, "hi": 0.2, "lo": -0.03},
      {"day": 160, "r": 0.068, "hi": 0.19, "lo": -0.04},
      {"day": 163, "r": 0.053, "hi": 0.17, "lo": -0.05},
      {"day": 166, "r": 0.06, "hi": 0.18, "lo": -0.05},
      {"day": 170, "r": 0.049, "hi": 0.17, "lo": -0.06},
      {"day": 174, "r": 0.034, "hi": 0.15, "lo": -0.07},
      {"day": 177, "r": 0.053, "hi": 0.17, "lo": -0.05},
      {"day": 180, "r": 0.094, "hi": 0.21, "lo": -0.01, "seg": 2},
      {"day": 182, "r": 0.086, "hi": 0.2, "lo": -0.02, "seg": 2},
      {"day": 184, "r": 0.004, "hi": 0.12, "lo": -0.1},
      {"day": 187, "r": -0.026, "hi": 0.09, "lo": -0.13},
      {"day": 190, "r": -0.023, "hi": 0.09, "lo": -0.13},
      {"day": 193, "r": 0.004, "hi": 0.12, "lo": -0.1},
      {"day": 196, "r": 0.026, "hi": 0.14, "lo": -0.08},
      {"day": 198, "r": -0.011, "hi": 0.1, "lo": -0.12},
      {"day": 202, "r": -0.034, "hi": 0.08, "lo": -0.14},
      {"day": 207, "r": -0.019, "hi": 0.09, "lo": -0.12},
      {"day": 211, "r": 0.004, "hi": 0.12, "lo": -0.1},
      {"day": 214, "r": 0.034, "hi": 0.15, "lo": -0.07},
      {"day": 217, "r": 0.011, "hi": 0.12, "lo": -0.09},
      {"day": 221, "r": -0.015, "hi": 0.1, "lo": -0.12},
      {"day": 224, "r": -0.023, "hi": 0.09, "lo": -0.13},
      {"day": 228, "r": 0.019, "hi": 0.13, "lo": -0.08},
      {"day": 232, "r": -0.026, "hi": 0.09, "lo": -0.13},
      {"day": 236, "r": 0.041, "hi": 0.15, "lo": -0.06},
      {"day": 239, "r": 0.064, "hi": 0.17, "lo": -0.04},
      {"day": 243, "r": 0.034, "hi": 0.14, "lo": -0.07},
      {"day": 247, "r": 0.0, "hi": 0.11, "lo": -0.1},
      {"day": 250, "r": 0.026, "hi": 0.13, "lo": -0.08},
      {"day": 254, "r": -0.008, "hi": 0.1, "lo": -0.11},
      {"day": 258, "r": 0.011, "hi": 0.11, "lo": -0.1},
      {"day": 262, "r": 0.0, "hi": 0.1, "lo": -0.11},
      {"day": 265, "r": -0.011, "hi": 0.08, "lo": -0.13},
      {"day": 269, "r": -0.038, "hi": 0.05, "lo": -0.15},
      {"day": 272, "r": -0.053, "hi": 0.03, "lo": -0.17},
      {"day": 275, "r": -0.085, "hi": 0.01, "lo": -0.2, "seg": 3},
      {"day": 279, "r": -0.09, "hi": 0.0, "lo": -0.2, "seg": 3},
      {"day": 281, "r": -0.064, "hi": 0.03, "lo": -0.18},
      {"day": 285, "r": -0.094, "hi": 0.0, "lo": -0.21, "seg": 4},
      {"day": 289, "r": -0.098, "hi": -0.01, "lo": -0.21, "seg": 4},
      {"day": 291, "r": -0.064, "hi": 0.03, "lo": -0.18},
      {"day": 295, "r": -0.09, "hi": 0.0, "lo": -0.2, "seg": 5},
      {"day": 299, "r": -0.094, "hi": 0.0, "lo": -0.21, "seg": 5},
      {"day": 302, "r": -0.109, "hi": -0.01, "lo": -0.22, "seg": 5},
      {"day": 305, "r": -0.09, "hi": 0.0, "lo": -0.2, "seg": 5},
      {"day": 309, "r": -0.049, "hi": 0.04, "lo": -0.16},
      {"day": 313, "r": -0.071, "hi": 0.02, "lo": -0.18},
      {"day": 317, "r": -0.086, "hi": 0.01, "lo": -0.2, "seg": 6},
      {"day": 320, "r": -0.098, "hi": 0.0, "lo": -0.21, "seg": 6},
      {"day": 323, "r": -0.041, "hi": 0.05, "lo": -0.16},
      {"day": 327, "r": -0.034, "hi": 0.06, "lo": -0.15},
      {"day": 330, "r": -0.049, "hi": 0.04, "lo": -0.17},
      {"day": 332, "r": -0.105, "hi": -0.01, "lo": -0.22, "seg": 7},
      {"day": 336, "r": -0.117, "hi": -0.02, "lo": -0.23, "seg": 7},
      {"day": 340, "r": -0.128, "hi": -0.03, "lo": -0.24, "seg": 7},
      {"day": 343, "r": -0.135, "hi": -0.04, "lo": -0.25, "seg": 7},
      {"day": 347, "r": -0.132, "hi": -0.04, "lo": -0.25, "seg": 7},
      {"day": 350, "r": -0.15, "hi": -0.05, "lo": -0.26, "seg": 7},
      {"day": 353, "r": -0.162, "hi": -0.06, "lo": -0.27, "seg": 7},
      {"day": 356, "r": -0.117, "hi": -0.02, "lo": -0.23, "seg": 7},
      {"day": 359, "r": -0.086, "hi": 0.01, "lo": -0.2, "seg": 7},
      {"day": 363, "r": -0.124, "hi": -0.03, "lo": -0.24, "seg": 7},
      {"day": 367, "r": -0.154, "hi": -0.06, "lo": -0.26, "seg": 7},
      {"day": 370, "r": -0.132, "hi": -0.04, "lo": -0.25, "seg": 7},
      {"day": 374, "r": -0.105, "hi": -0.01, "lo": -0.22, "seg": 7},
      {"day": 377, "r": -0.086, "hi": 0.01, "lo": -0.2, "seg": 7},
      {"day": 380, "r": -0.06, "hi": 0.04, "lo": -0.18},
      {"day": 384, "r": -0.068, "hi": 0.03, "lo": -0.18},
      {"day": 387, "r": -0.09, "hi": 0.01, "lo": -0.2, "seg": 8},
      {"day": 389, "r": -0.086, "hi": 0.01, "lo": -0.2, "seg": 8},
      {"day": 392, "r": -0.079, "hi": 0.02, "lo": -0.19},
      {"day": 395, "r": -0.117, "hi": -0.02, "lo": -0.23, "seg": 9},
      {"day": 398, "r": -0.143, "hi": -0.05, "lo": -0.25, "seg": 9},
      {"day": 400, "r": -0.094, "hi": 0.0, "lo": -0.21, "seg": 9},
      {"day": 403, "r": -0.079, "hi": 0.02, "lo": -0.19, "seg": 9},
      {"day": 406, "r": -0.124, "hi": -0.03, "lo": -0.24, "seg": 9},
      {"day": 409, "r": -0.139, "hi": -0.04, "lo": -0.25, "seg": 9},
      {"day": 412, "r": -0.128, "hi": -0.03, "lo": -0.24, "seg": 9},
      {"day": 416, "r": -0.124, "hi": -0.03, "lo": -0.24, "seg": 9},
      {"day": 420, "r": -0.117, "hi": -0.02, "lo": -0.23, "seg": 9},
      {"day": 424, "r": -0.135, "hi": -0.04, "lo": -0.25, "seg": 9},
      {"day": 427, "r": -0.113, "hi": -0.02, "lo": -0.23, "seg": 9},
      {"day": 431, "r": -0.158, "hi": -0.06, "lo": -0.26, "seg": 9},
      {"day": 435, "r": -0.12, "hi": -0.02, "lo": -0.23, "seg": 9},
      {"day": 438, "r": -0.139, "hi": -0.04, "lo": -0.25, "seg": 9},
      {"day": 442, "r": -0.117, "hi": -0.02, "lo": -0.23, "seg": 9},
      {"day": 446, "r": -0.132, "hi": -0.04, "lo": -0.24, "seg": 9},
      {"day": 450, "r": -0.12, "hi": -0.02, "lo": -0.23, "seg": 9},
      {"day": 453, "r": -0.09, "hi": 0.01, "lo": -0.2, "seg": 9},
      {"day": 456, "r": -0.026, "hi": 0.08, "lo": -0.13},
      {"day": 458, "r": -0.011, "hi": 0.1, "lo": -0.12},
      {"day": 462, "r": 0.019, "hi": 0.13, "lo": -0.09},
      {"day": 466, "r": 0.038, "hi": 0.15, "lo": -0.07},
      {"day": 469, "r": 0.004, "hi": 0.11, "lo": -0.1},
      {"day": 473, "r": -0.023, "hi": 0.08, "lo": -0.13},
      {"day": 476, "r": -0.094, "hi": 0.01, "lo": -0.2, "seg": 10},
      {"day": 479, "r": -0.109, "hi": -0.01, "lo": -0.21, "seg": 10},
      {"day": 482, "r": -0.09, "hi": 0.01, "lo": -0.2, "seg": 10},
      {"day": 485, "r": -0.102, "hi": 0.0, "lo": -0.21, "seg": 10},
      {"day": 488, "r": -0.086, "hi": 0.02, "lo": -0.19, "seg": 10},
      {"day": 491, "r": -0.098, "hi": 0.0, "lo": -0.2, "seg": 10},
      {"day": 494, "r": -0.086, "hi": 0.02, "lo": -0.19, "seg": 10},
      {"day": 497, "r": -0.102, "hi": 0.0, "lo": -0.21, "seg": 10},
      {"day": 500, "r": -0.094, "hi": 0.01, "lo": -0.2, "seg": 10},
      {"day": 503, "r": -0.12, "hi": -0.02, "lo": -0.22, "seg": 10},
      {"day": 506, "r": -0.086, "hi": 0.02, "lo": -0.19, "seg": 10},
      {"day": 509, "r": -0.038, "hi": 0.07, "lo": -0.14},
      {"day": 513, "r": -0.071, "hi": 0.03, "lo": -0.17},
      {"day": 516, "r": -0.102, "hi": 0.0, "lo": -0.2, "seg": 11},
      {"day": 519, "r": -0.094, "hi": 0.01, "lo": -0.2, "seg": 11},
      {"day": 521, "r": -0.056, "hi": 0.05, "lo": -0.16},
      {"day": 523, "r": -0.098, "hi": 0.0, "lo": -0.2, "seg": 12},
      {"day": 525, "r": -0.117, "hi": -0.02, "lo": -0.22, "seg": 12},
      {"day": 528, "r": -0.086, "hi": 0.02, "lo": -0.19, "seg": 12},
      {"day": 531, "r": -0.045, "hi": 0.06, "lo": -0.15},
      {"day": 534, "r": -0.038, "hi": 0.07, "lo": -0.14},
      {"day": 538, "r": -0.03, "hi": 0.08, "lo": -0.13},
      {"day": 541, "r": 0.026, "hi": 0.13, "lo": -0.08},
      {"day": 545, "r": -0.019, "hi": 0.09, "lo": -0.12},
      {"day": 548, "r": -0.071, "hi": 0.04, "lo": -0.17},
      {"day": 551, "r": -0.026, "hi": 0.08, "lo": -0.13},
      {"day": 555, "r": -0.038, "hi": 0.07, "lo": -0.14},
      {"day": 559, "r": -0.049, "hi": 0.06, "lo": -0.15},
      {"day": 563, "r": -0.056, "hi": 0.05, "lo": -0.16},
      {"day": 567, "r": -0.064, "hi": 0.04, "lo": -0.17},
      {"day": 572, "r": -0.06, "hi": 0.05, "lo": -0.16}
    ]
  },
  "concat": [
    {
      "title": {"text": "A", "frame": "bounds", "fontSize": 23, "fontWeight": "bold", "color": "#000000", "dx": 1, "offset": -13},
      "spacing": 9,
      "hconcat": [
        {
          "width": 533, "height": 234,
          "title": {"text": "Soil moisture [m³/m³]", "subtitle": "first growth phase", "offset": -27},
          "data": {"name": "soilFirst"},
          "encoding": {
            "x": {"field": "day", "type": "quantitative", "scale": {"domain": [0, 577], "nice": false, "zero": false},
              "axis": {"title": null, "labelOverlap": false, "labelFlush": false, "values": [15, 45, 74, 105, 135, 166, 196, 227, 258, 288, 319, 349, 380, 410, 439, 470, 500, 531, 561],
                "labelExpr": "['jan','feb','mar','apr','may','jun','jul','aug','sep','oct','nov','dec','JAN','FEB','MAR','APR','MAY','JUN','JUL'][floor(datum.value / 30.45)]"}}
          },
          "layer": [
            {
              "mark": {"type": "area", "color": "#e0a0c0", "opacity": 0.25, "clip": true},
              "encoding": {
                "y": {"field": "lo", "type": "quantitative", "scale": {"domain": [-0.265, 0.344], "nice": false, "zero": false},
                  "axis": {"title": "Pearson's correlation coeficient", "titleX": -72, "titleBaseline": "middle", "values": [-0.2, -0.1, 0, 0.1, 0.2, 0.3],
                    "labelExpr": "replace(format(datum.value, '.1f'), '\u2212', '-')",
                    "grid": true, "gridColor": "#ababab", "gridWidth": 1.6, "gridDash": [8, 6],
                    "gridOpacity": {"condition": {"test": "datum.value === 0", "value": 1}, "value": 0}}},
                "y2": {"field": "hi"}
              }
            },
            {
              "data": {"name": "seasonsFirst"},
              "mark": {"type": "rule", "color": "#ababab", "strokeWidth": 1.5},
              "encoding": {}
            },
            {
              "mark": {"type": "line", "color": "#d6a4bd", "strokeWidth": 1.5, "clip": true},
              "encoding": {"y": {"field": "r", "type": "quantitative"}}
            },
            {
              "transform": [{"filter": "isValid(datum.seg)"}],
              "mark": {"type": "line", "color": "#9e2d67", "strokeWidth": 2.4, "clip": true},
              "encoding": {"y": {"field": "r", "type": "quantitative"}, "detail": {"field": "seg", "type": "nominal"}}
            }
          ]
        },
        {
          "width": 530, "height": 234,
          "title": {"text": "Temperature [°C]", "subtitle": "first growth phase"},
          "data": {"name": "tempFirst"},
          "encoding": {
            "x": {"field": "day", "type": "quantitative", "scale": {"domain": [0, 575], "nice": false, "zero": false},
              "axis": {"title": null, "labelOverlap": false, "labelFlush": false, "values": [15, 45, 74, 105, 135, 166, 196, 227, 258, 288, 319, 349, 380, 410, 439, 470, 500, 531, 561],
                "labelExpr": "['jan','feb','mar','apr','may','jun','jul','aug','sep','oct','nov','dec','JAN','FEB','MAR','APR','MAY','JUN','JUL'][floor(datum.value / 30.45)]"}}
          },
          "layer": [
            {
              "mark": {"type": "area", "color": "#e0a0c0", "opacity": 0.25, "clip": true},
              "encoding": {
                "y": {"field": "lo", "type": "quantitative", "scale": {"domain": [-0.265, 0.344], "nice": false, "zero": false},
                  "axis": {"title": null, "labels": false, "values": [-0.2, -0.1, 0, 0.1, 0.2, 0.3],
                    "grid": true, "gridColor": "#ababab", "gridWidth": 1.6, "gridDash": [8, 6],
                    "gridOpacity": {"condition": {"test": "datum.value === 0", "value": 1}, "value": 0}}},
                "y2": {"field": "hi"}
              }
            },
            {
              "data": {"name": "seasonsFirst"},
              "mark": {"type": "rule", "color": "#ababab", "strokeWidth": 1.5},
              "encoding": {}
            },
            {
              "mark": {"type": "line", "color": "#d6a4bd", "strokeWidth": 1.5, "clip": true},
              "encoding": {"y": {"field": "r", "type": "quantitative"}}
            },
            {
              "transform": [{"filter": "isValid(datum.seg)"}],
              "mark": {"type": "line", "color": "#9e2d67", "strokeWidth": 2.4, "clip": true},
              "encoding": {"y": {"field": "r", "type": "quantitative"}, "detail": {"field": "seg", "type": "nominal"}}
            }
          ]
        }
      ]
    },
    {
      "width": 1074, "height": 27,
      "data": {"values": [{}]},
      "mark": {"type": "rule", "color": "#111111", "strokeWidth": 3},
      "encoding": {
        "x": {"datum": -0.081, "type": "quantitative", "scale": {"domain": [0, 1]}, "axis": null},
        "x2": {"datum": 1},
        "y": {"datum": 0, "type": "quantitative", "scale": {"domain": [0, 1]}, "axis": null}
      }
    },
    {
      "title": {"text": "B", "frame": "bounds", "fontSize": 23, "fontWeight": "bold", "color": "#000000", "dx": 1, "offset": -13},
      "spacing": 9,
      "hconcat": [
        {
          "width": 533, "height": 234,
          "title": {"text": "Soil moisture [m³/m³]", "subtitle": "second growth phase", "offset": -27},
          "data": {"name": "soilSecond"},
          "encoding": {
            "x": {"field": "day", "type": "quantitative", "scale": {"domain": [0, 579], "nice": false, "zero": false},
              "axis": {"title": null, "labelOverlap": false, "labelFlush": false, "values": [15, 45, 76, 107, 137, 168, 198, 229, 259, 288, 319, 349, 380, 410, 441, 472, 502, 533, 563],
                "labelExpr": "['jun','jul','aug','sep','oct','nov','dec','JAN','FEB','MAR','APR','MAY','JUN','JUL','AUG','SEP','OCT','NOV','DEC'][floor(datum.value / 30.45)]"}}
          },
          "layer": [
            {
              "mark": {"type": "area", "color": "#e0a0c0", "opacity": 0.25, "clip": true},
              "encoding": {
                "y": {"field": "lo", "type": "quantitative", "scale": {"domain": [-0.275, 0.252], "nice": false, "zero": false},
                  "axis": {"title": "Pearson's correlation coeficient", "titleX": -72, "titleBaseline": "middle", "values": [-0.2, -0.1, 0, 0.1, 0.2],
                    "labelExpr": "replace(format(datum.value, '.1f'), '\u2212', '-')",
                    "grid": true, "gridColor": "#ababab", "gridWidth": 1.6, "gridDash": [8, 6],
                    "gridOpacity": {"condition": {"test": "datum.value === 0", "value": 1}, "value": 0}}},
                "y2": {"field": "hi"}
              }
            },
            {
              "data": {"name": "seasonsSecond"},
              "mark": {"type": "rule", "color": "#ababab", "strokeWidth": 1.5},
              "encoding": {}
            },
            {
              "mark": {"type": "line", "color": "#d6a4bd", "strokeWidth": 1.5, "clip": true},
              "encoding": {"y": {"field": "r", "type": "quantitative"}}
            },
            {
              "transform": [{"filter": "isValid(datum.seg)"}],
              "mark": {"type": "line", "color": "#9e2d67", "strokeWidth": 2.4, "clip": true},
              "encoding": {"y": {"field": "r", "type": "quantitative"}, "detail": {"field": "seg", "type": "nominal"}}
            }
          ]
        },
        {
          "width": 530, "height": 234,
          "title": {"text": "Temperature [°C]", "subtitle": "second growth phase"},
          "data": {"name": "tempSecond"},
          "encoding": {
            "x": {"field": "day", "type": "quantitative", "scale": {"domain": [0, 572], "nice": false, "zero": false},
              "axis": {"title": null, "labelOverlap": false, "labelFlush": false, "values": [15, 45, 76, 107, 137, 168, 198, 229, 259, 288, 319, 349, 380, 410, 441, 472, 502, 533, 563],
                "labelExpr": "['jun','jul','aug','sep','oct','nov','dec','JAN','FEB','MAR','APR','MAY','JUN','JUL','AUG','SEP','OCT','NOV','DEC'][floor(datum.value / 30.45)]"}}
          },
          "layer": [
            {
              "mark": {"type": "area", "color": "#e0a0c0", "opacity": 0.25, "clip": true},
              "encoding": {
                "y": {"field": "lo", "type": "quantitative", "scale": {"domain": [-0.275, 0.252], "nice": false, "zero": false},
                  "axis": {"title": null, "labels": false, "values": [-0.2, -0.1, 0, 0.1, 0.2],
                    "grid": true, "gridColor": "#ababab", "gridWidth": 1.6, "gridDash": [8, 6],
                    "gridOpacity": {"condition": {"test": "datum.value === 0", "value": 1}, "value": 0}}},
                "y2": {"field": "hi"}
              }
            },
            {
              "data": {"name": "seasonsSecond"},
              "mark": {"type": "rule", "color": "#ababab", "strokeWidth": 1.5},
              "encoding": {}
            },
            {
              "mark": {"type": "line", "color": "#d6a4bd", "strokeWidth": 1.5, "clip": true},
              "encoding": {"y": {"field": "r", "type": "quantitative"}}
            },
            {
              "transform": [{"filter": "isValid(datum.seg)"}],
              "mark": {"type": "line", "color": "#9e2d67", "strokeWidth": 2.4, "clip": true},
              "encoding": {"y": {"field": "r", "type": "quantitative"}, "detail": {"field": "seg", "type": "nominal"}}
            }
          ]
        }
      ]
    }
  ]
}
